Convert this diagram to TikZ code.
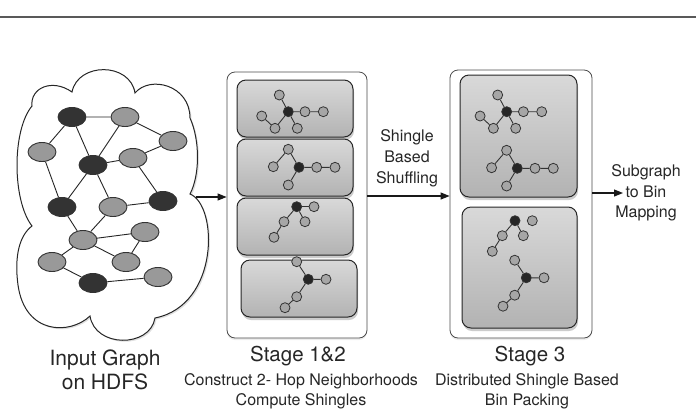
\documentclass[tikz,border=0pt]{standalone}
\usepackage{fontspec}
\setmainfont{TeX Gyre Heros}
\usetikzlibrary{arrows.meta,shapes.geometric,shadows}

% small shingle trees drawn inside the bins; #1 is a name prefix
\newcommand\treeA[1]{%
  \node[tc] (#1c) at (288.3,111.7) {};
  \node[tn] (#1a) at (279.3,95) {};
  \node[tn] (#1b) at (305,111.7) {};
  \node[tn] (#1d) at (323.3,111.7) {};
  \node[tn] (#1e) at (275,128.3) {};
  \node[tn] (#1f) at (261.7,116) {};
  \node[tn] (#1g) at (297.3,128.3) {};
  \draw[tedge] (#1c) -- (#1a) (#1c) -- (#1b) (#1b) -- (#1d)
    (#1c) -- (#1e) (#1e) -- (#1f) (#1c) -- (#1g);}
\newcommand\treeB[1]{%
  \node[tc] (#1c) at (299,167.3) {};
  \node[tn] (#1a) at (288.3,149.3) {};
  \node[tn] (#1b) at (273.3,166.7) {};
  \node[tn] (#1d) at (316.7,167.3) {};
  \node[tn] (#1e) at (335,167.3) {};
  \node[tn] (#1f) at (288.3,185) {};
  \draw[tedge] (#1c) -- (#1a) (#1a) -- (#1b) (#1c) -- (#1d)
    (#1d) -- (#1e) (#1c) -- (#1f);}
\newcommand\treeC[1]{%
  \node[tc] (#1c) at (296.7,206.7) {};
  \node[tn] (#1a) at (314,206.7) {};
  \node[tn] (#1b) at (284,221.7) {};
  \node[tn] (#1d) at (305,221.7) {};
  \node[tn] (#1e) at (274,237.3) {};
  \draw[tedge] (#1c) -- (#1b) (#1c) -- (#1d) (#1b) -- (#1e);}
\newcommand\treeD[1]{%
  \node[tn] (#1a) at (296.7,261.7) {};
  \node[tc] (#1c) at (308.3,279.3) {};
  \node[tn] (#1b) at (326,279.3) {};
  \node[tn] (#1d) at (296.7,296.7) {};
  \node[tn] (#1e) at (285,307.7) {};
  \draw[tedge] (#1a) -- (#1c) (#1c) -- (#1b) (#1c) -- (#1d) (#1d) -- (#1e);}

\begin{document}
\begin{tikzpicture}[x=1pt,y=-1pt,
  gnode/.style={ellipse,draw=black!80,line width=0.9pt,minimum width=28pt,minimum height=19pt,inner sep=0pt},
  gdark/.style={gnode,fill=black!80},
  glite/.style={gnode,fill=black!40},
  gedge/.style={draw=black!85,line width=0.9pt},
  tn/.style={circle,draw=black!80,line width=0.8pt,minimum size=10pt,inner sep=0pt,fill=black!35},
  tc/.style={tn,fill=black!85},
  tedge/.style={draw=black!80,line width=0.9pt},
  stagebox/.style={draw=black!70,line width=0.8pt,rounded corners=8pt,fill=white,
    drop shadow={opacity=0.15,shadow xshift=0pt,shadow yshift=-2pt}},
  binbox/.style={draw=black!85,line width=1pt,rounded corners=9pt,top color=black!15,bottom color=black!30,
    drop shadow={opacity=0.4,shadow xshift=1pt,shadow yshift=-3pt}},
  arr/.style={-{Triangle[length=9pt,width=7pt]},line width=1.1pt,draw=black!90},
  lbl/.style={text=black!85,inner sep=0pt,align=center},
]
\useasboundingbox (0,0) rectangle (696,408);

% rule across the top
\draw[black!65,line width=2pt] (0,16.5) -- (696,16.5);

% input graph cloud
\draw[black!85,line width=1pt,fill=white,
  preaction={fill=black!12,transform canvas={xshift=1.5pt,yshift=-1.5pt}}]
  (32,106) .. controls (30,88) and (52,78) .. (72,92)
  .. controls (78,62) and (130,62) .. (135,93)
  .. controls (150,75) and (190,85) .. (190,118)
  .. controls (200,140) and (200,175) .. (190,194)
  .. controls (218,205) and (220,305) .. (155,318)
  .. controls (150,348) and (95,348) .. (90,316)
  .. controls (70,335) and (25,335) .. (18,285)
  .. controls (14,255) and (20,235) .. (32,226)
  .. controls (12,200) and (12,130) .. (32,106) -- cycle;
\coordinate (cloudR) at (196,197);

% graph nodes
\node[gdark] (n1) at (72,117) {};
\node[gdark] (n2) at (93,165) {};
\node[gdark] (n3) at (62,207) {};
\node[gdark] (n4) at (163,201) {};
\node[gdark] (n5) at (93,283) {};
\node[glite] (m1) at (125,117) {};
\node[glite] (m2) at (173,141) {};
\node[glite] (m3) at (42,152) {};
\node[glite] (m4) at (133,158) {};
\node[glite] (m5) at (113,207) {};
\node[glite] (m6) at (145,232) {};
\node[glite] (m7) at (83,240) {};
\node[glite] (m8) at (52,262) {};
\node[glite] (m9) at (126,262) {};
\node[glite] (m10) at (158,277) {};
\draw[gedge] (n1) -- (m1) (n1) -- (m3) (n1) -- (n2) (m1) -- (n2) (m1) -- (m2)
  (m4) -- (m2) (n2) -- (m4) (m4) -- (n4) (m3) -- (n3) (n2) -- (n3) (n2) -- (m5)
  (m5) -- (n4) (n3) -- (m7) (m5) -- (m7) (m7) -- (m6) (m6) -- (m9) (m7) -- (m8)
  (m7) -- (m9) (m8) -- (n5) (n5) -- (m10);

% stage 1&2
\node[stagebox,minimum width=140pt,minimum height=266pt] (s12) at (297,205) {};
\node[binbox,minimum width=116pt,minimum height=57pt] (b1) at (295,108.5) {};
\node[binbox,minimum width=116pt,minimum height=57pt] (b2) at (295,167.5) {};
\node[binbox,minimum width=116pt,minimum height=57pt] (b3) at (295,226.5) {};
\node[binbox,minimum width=116pt,minimum height=57pt] (b4) at (299,288.5) {};
\treeA{p1}
\treeB{p2}
\treeC{p3}
\draw[tedge] (p3c) -- (p3a);
\treeD{p4}

% stage 3
\node[stagebox,minimum width=142pt,minimum height=268pt] (s3) at (521,204) {};
\node[binbox,minimum width=117pt,minimum height=122pt] (c1) at (518.5,136) {};
\node[binbox,minimum width=115pt,minimum height=121pt] (c2) at (519.5,267.5) {};
\begin{scope}[shift={(218.4,0)}]\treeA{q1}\end{scope}
\begin{scope}[shift={(218.3,1)}]\treeB{q2}\end{scope}
\begin{scope}[shift={(218.3,14)}]\treeC{q3}\end{scope}
\begin{scope}[shift={(218,-1.5)}]\treeD{q4}\end{scope}

% connectors
\coordinate (shufY) at (0,196);
\coordinate (mapY) at (0,193);
\coordinate (mapEnd) at (623,193);
\draw[arr] (cloudR) -- (s12.west |- cloudR);
\draw[arr] (s12.east |- shufY) -- (s3.west |- shufY);
\draw[arr] (s3.east |- mapY) -- (mapEnd);

% labels
\node[lbl,font=\fontsize{16}{21}\selectfont] (shuf) at (407,158) {Shingle\\Based\\Shuffling};
\node[lbl,font=\fontsize{16}{20.5}\selectfont] (map) at (646,193) {Subgraph\\to Bin\\Mapping};
\node[lbl,font=\fontsize{21}{23.5}\selectfont] (inlbl) at (105,370) {Input Graph\\on HDFS};
\node[lbl,font=\fontsize{20.5}{24}\selectfont] (t12) at (298,356) {Stage 1\&2};
\node[lbl,font=\fontsize{16}{20}\selectfont] (d12) at (301,391) {Construct 2- Hop Neighborhoods\\Compute Shingles};
\node[lbl,font=\fontsize{20.5}{24}\selectfont] (t3) at (530,356) {Stage 3};
\node[lbl,font=\fontsize{16}{20}\selectfont] (d3) at (527,391) {Distributed Shingle Based\\Bin Packing};
\end{tikzpicture}
\end{document}
